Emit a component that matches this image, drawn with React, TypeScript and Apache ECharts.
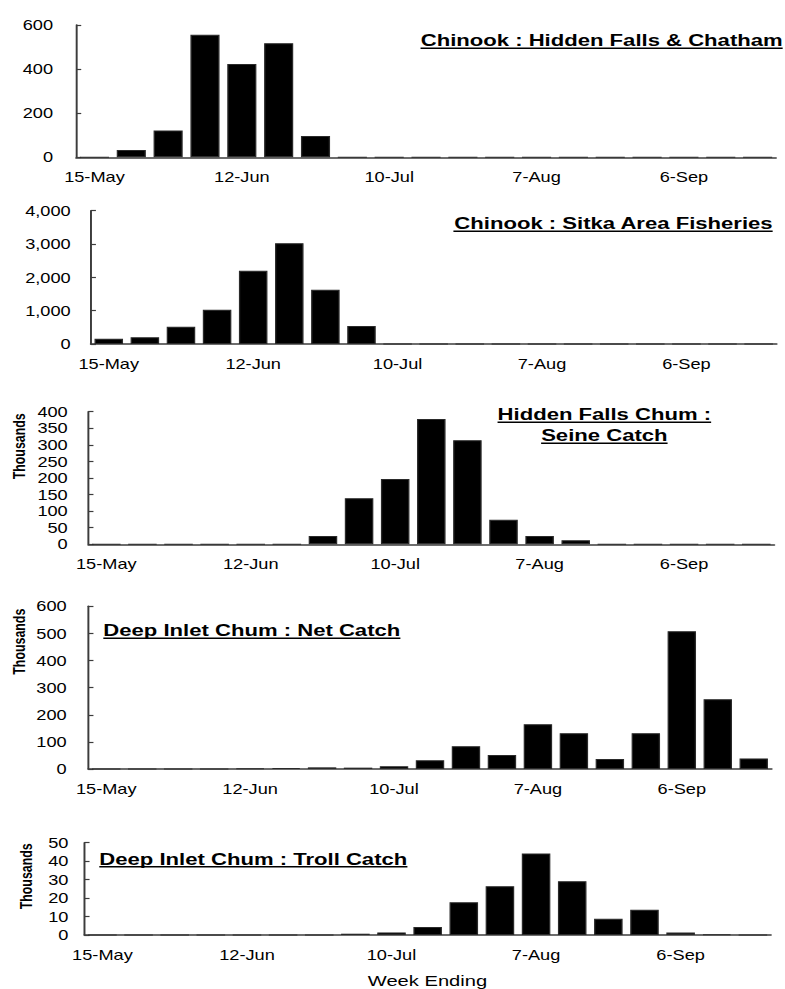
import React, { useEffect, useRef } from "react";
import * as echarts from "echarts";

// ---- Data (weekly catches) ----
const weekEnding = [
  "15-May", "22-May", "29-May", "5-Jun", "12-Jun", "19-Jun", "26-Jun", "3-Jul",
  "10-Jul", "17-Jul", "24-Jul", "31-Jul", "7-Aug", "14-Aug", "21-Aug", "30-Aug",
  "6-Sep", "13-Sep", "20-Sep",
];

const chinookHiddenFallsChatham = [0, 33, 121, 556, 423, 517, 97, 0, 0, 0, 0, 0, 0, 0, 0, 0, 0, 0, 0];
const chinookSitkaArea = [160, 200, 520, 1030, 2200, 3020, 1630, 540, 0, 0, 0, 0, 0, 0, 0, 0, 0, 0, 0];
// thousands
const hiddenFallsChumSeine = [0, 0, 0, 0, 0, 0, 25, 139, 197, 378, 314, 74, 25, 12, 0, 0, 0, 0, 0];
const deepInletChumNet = [0, 0, 0, 0, 2, 3, 6, 5, 10, 32, 84, 52, 165, 132, 37, 132, 508, 257, 39];
const deepInletChumTroll = [0, 0, 0, 0, 0, 0, 0, 0.7, 1.4, 4.3, 17.7, 26.4, 44.2, 29.1, 8.8, 13.7, 1.3, 0.4, 0];

const panelTitles = [
  ["Chinook : Hidden Falls & Chatham"],
  ["Chinook : Sitka Area Fisheries"],
  ["Hidden Falls Chum :", "Seine Catch"],
  ["Deep Inlet Chum : Net Catch"],
  ["Deep Inlet Chum : Troll Catch"],
];
const yMax = [600, 4000, 400, 600, 50];
const yStep = [200, 1000, 50, 100, 10];
const yAxisUnit = "Thousands";
const xAxisTitle = "Week Ending";

// ---- Layout ----
const W = 604;
const H = 989;
const SX = 785 / W;
const FONT = '"Liberation Sans", Arial, Helvetica, sans-serif';

const measure = (text: string, font: string) => {
  const c = document.createElement("canvas").getContext("2d");
  if (!c) return text.length * 9;
  c.font = font;
  return c.measureText(text).width;
};

const grids = [
  { left: 58.5, right: 6.9, top: 25, height: 132.3, yMargin: 17.7 },
  { left: 69.8, right: 6.4, top: 210.7, height: 133.3, yMargin: 15.4 },
  { left: 67.9, right: 8.2, top: 411.7, height: 132.6, yMargin: 15.8 },
  { left: 67.9, right: 10.2, top: 606.3, height: 162.7, yMargin: 16.6 },
  { left: 64.9, right: 10.8, top: 842.7, height: 92.3, yMargin: 12.3 },
];

// title placement: anchor x, alignment, baselines
const titleLayout = [
  { x: 602.2, align: "right", baselines: [46] },
  { x: 594.5, align: "right", baselines: [229] },
  { x: 465, align: "center", baselines: [420, 441] },
  { x: 79.5, align: "left", baselines: [636] },
  { x: 76.4, align: "left", baselines: [864.5] },
];

const thousandsPos = [null, null, { x: 14.8, y: 446.3 }, { x: 14.8, y: 641.7 }, { x: 20, y: 876.3 }];

export default function App() {
  const ref = useRef<HTMLDivElement>(null);

  useEffect(() => {
    if (!ref.current) return;
    const chart = echarts.init(ref.current, undefined, { renderer: "svg" });
    const seriesData = [
      chinookHiddenFallsChatham,
      chinookSitkaArea,
      hiddenFallsChumSeine,
      deepInletChumNet,
      deepInletChumTroll,
    ];

    const axisColor = "#3c3c3c";
    const titleFont = `bold 17px ${FONT}`;
    const graphic: any[] = [];

    titleLayout.forEach((t, i) => {
      panelTitles[i].forEach((line, j) => {
        const base = t.baselines[j];
        const w = measure(line, titleFont);
        const left = t.align === "right" ? t.x - w : t.align === "center" ? t.x - w / 2 : t.x;
        graphic.push({
          type: "text",
          x: t.x,
          y: base - 0.3465 * 17,
          style: {
            text: line,
            font: titleFont,
            fill: "#000",
            align: t.align,
            verticalAlign: "middle",
            textAlign: t.align,
            textVerticalAlign: "middle",
          },
        });
        graphic.push({
          type: "rect",
          shape: { x: left, y: base + 1.6, width: w, height: 1.5 },
          style: { fill: "#000" },
        });
      });
    });

    thousandsPos.forEach((p) => {
      if (!p) return;
      graphic.push({
        type: "text",
        x: p.x,
        y: p.y,
        rotation: Math.PI / 2,
        style: {
          text: yAxisUnit,
          font: `bold 12.4px ${FONT}`,
          fill: "#000",
          align: "center",
          verticalAlign: "middle",
          textAlign: "center",
          textVerticalAlign: "middle",
        },
      });
    });

    graphic.push({
      type: "text",
      x: 328.9,
      y: 986.5 - 0.3465 * 15.5,
      style: {
        text: xAxisTitle,
        font: `15.5px ${FONT}`,
        fill: "#000",
        align: "center",
        verticalAlign: "middle",
        textAlign: "center",
        textVerticalAlign: "middle",
      },
    });

    chart.setOption({
      animation: false,
      backgroundColor: "#fff",
      grid: grids.map((g) => ({ left: g.left, right: g.right, top: g.top, height: g.height, containLabel: false })),
      xAxis: grids.map((g, i) => ({
        type: "category",
        gridIndex: i,
        data: weekEnding,
        boundaryGap: true,
        axisLine: { show: true, lineStyle: { color: axisColor, width: 1.5 } },
        axisTick: { show: false },
        axisLabel: {
          interval: 3,
          margin: 13,
          color: "#000",
          fontSize: 14,
          fontFamily: FONT,
        },
        splitLine: { show: false },
      })),
      yAxis: grids.map((g, i) => ({
        type: "value",
        gridIndex: i,
        min: 0,
        max: yMax[i],
        interval: yStep[i],
        axisLine: { show: true, lineStyle: { color: axisColor, width: 1.5 } },
        axisTick: { show: true, inside: true, length: 4, lineStyle: { color: axisColor, width: 1.2 } },
        axisLabel: {
          margin: g.yMargin,
          color: "#000",
          fontSize: 14,
          fontFamily: FONT,
          formatter: (v: number) => v.toLocaleString("en-US"),
        },
        splitLine: { show: false },
      })),
      series: seriesData.map((d, i) => ({
        type: "bar",
        xAxisIndex: i,
        yAxisIndex: i,
        data: d,
        barWidth: "79%",
        itemStyle: { color: "#000", borderColor: "#2a2a2a", borderWidth: 1 },
      })),
      graphic,
    });

    return () => chart.dispose();
  }, []);

  return (
    <div style={{ position: "absolute", left: 0, top: 0, width: 785, height: H, overflow: "hidden", background: "#fff" }}>
      <div
        ref={ref}
        style={{ width: W, height: H, transform: `scaleX(${SX})`, transformOrigin: "0 0" }}
      />
    </div>
  );
}
